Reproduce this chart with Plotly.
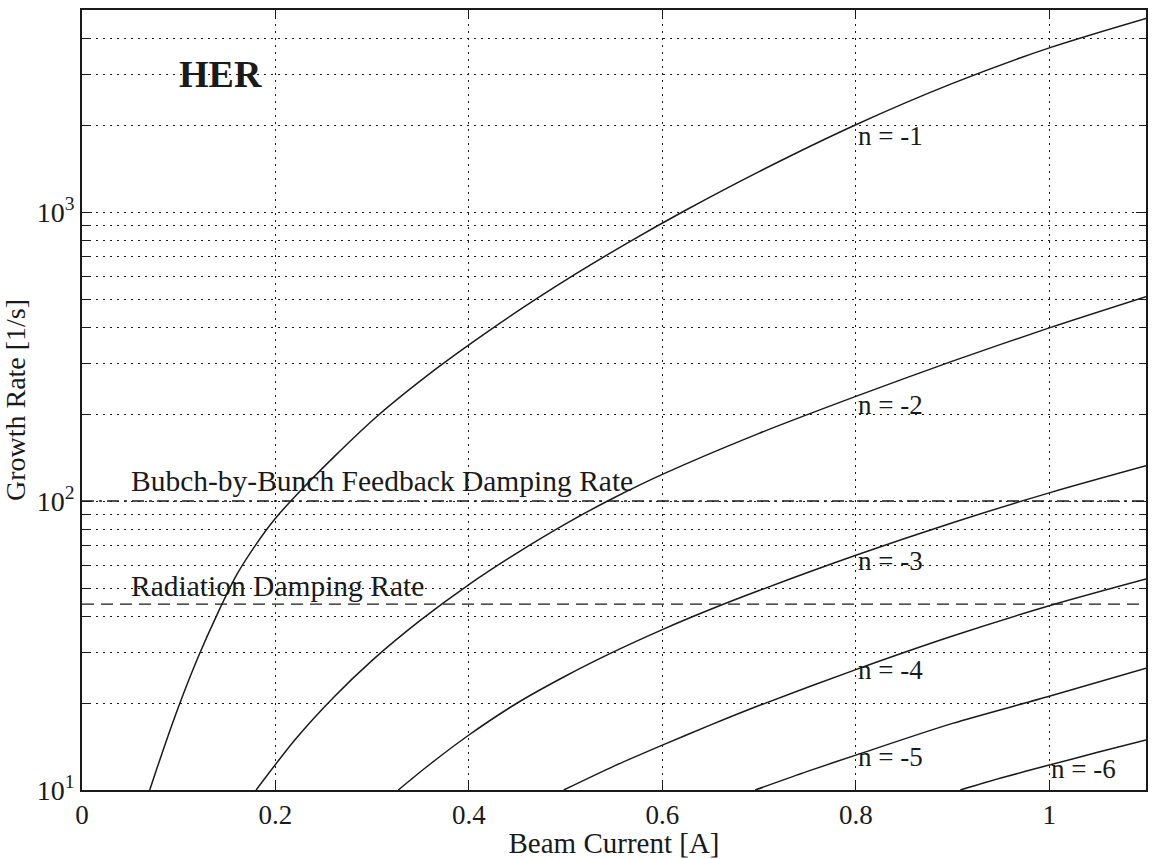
import math
import plotly.graph_objects as go

# ---- data (growth rate in 1/s vs beam current in A) ----
n1_x = [0.070, 0.085, 0.100, 0.120, 0.140, 0.160, 0.180, 0.200, 0.220, 0.260, 0.306, 0.369, 0.421,
        0.470, 0.510, 0.565, 0.624, 0.700, 0.800, 0.900, 1.000, 1.100]
n1_y = [10, 14.1, 19.5, 28.8, 40.7, 55.6, 70.8, 87.1, 103.5, 141.6, 197.7, 291.7, 389.0,
        501.2, 609.5, 785.2, 1014, 1380, 2004, 2786, 3698, 4677]

n2_x = [0.180, 0.220, 0.260, 0.300, 0.350, 0.400, 0.450, 0.500, 0.550, 0.600, 0.700, 0.800, 0.900, 1.000, 1.100]
n2_y = [10, 14.9, 20.9, 28.1, 38.7, 51.4, 66.2, 83.4, 102.6, 123.6, 171.4, 230.1, 304.8, 397.2, 509.3]

n3_x = [0.327, 0.360, 0.400, 0.450, 0.500, 0.550, 0.600, 0.650, 0.700, 0.800, 0.900, 1.000, 1.100]
n3_y = [10, 12.3, 15.5, 20.0, 24.8, 30.1, 35.9, 42.2, 49.0, 64.9, 84.1, 106.7, 132.4]

n4_x = [0.498, 0.550, 0.600, 0.650, 0.700, 0.800, 0.900, 1.000, 1.100]
n4_y = [10, 12.1, 14.3, 16.8, 19.6, 26.1, 34.1, 43.4, 53.7]

n5_x = [0.696, 0.750, 0.800, 0.900, 1.000, 1.100]
n5_y = [10, 11.6, 13.2, 17.0, 21.1, 26.4]

n6_x = [0.908, 0.950, 1.000, 1.050, 1.100]
n6_y = [10, 11.0, 12.2, 13.5, 14.9]

mode_names = ["n = -1", "n = -2", "n = -3", "n = -4", "n = -5", "n = -6"]
label_x = [0.8, 0.8, 0.8, 0.8, 0.8, 1.0]
label_y = [1860, 218, 63, 26.4, 13.2, 12.0]

feedback_rate = 100
radiation_rate = 44
x_range = [0, 1.1]
y_range = [10, 5000]

x_ticks = [0, 0.2, 0.4, 0.6, 0.8, 1.0]
x_ticktext = ["0", "0.2", "0.4", "0.6", "0.8", "1"]
y_ticks = [10, 100, 1000]
y_ticktext = ["10<sup>1</sup>", "10<sup>2</sup>", "10<sup>3</sup>"]
y_minor = [20, 30, 40, 50, 60, 70, 80, 90, 200, 300, 400, 500, 600, 700, 800, 900, 2000, 3000, 4000]

FONT = "Liberation Serif, Times New Roman, serif"
INK = "#1a1a1a"

fig = go.Figure()

curves = [(n1_x, n1_y), (n2_x, n2_y), (n3_x, n3_y), (n4_x, n4_y), (n5_x, n5_y), (n6_x, n6_y)]
for (cx, cy), name in zip(curves, mode_names):
    fig.add_trace(go.Scatter(x=cx, y=cy, mode="lines", name=name,
                             line=dict(color=INK, width=1.5, shape="spline", smoothing=0.8),
                             showlegend=False))

fig.add_trace(go.Scatter(x=x_range, y=[feedback_rate, feedback_rate], mode="lines",
                         line=dict(color=INK, width=1.3, dash="12px,5px,3px,5px"), showlegend=False))
fig.add_trace(go.Scatter(x=x_range, y=[radiation_rate, radiation_rate], mode="lines",
                         line=dict(color=INK, width=1.3, dash="12px,7px"), showlegend=False))

annotations = []
for name, lx, ly in zip(mode_names, label_x, label_y):
    annotations.append(dict(x=lx, y=math.log10(ly), xref="x", yref="y", text=name, showarrow=False,
                            xanchor="left", yanchor="top", xshift=0, yshift=15,
                            font=dict(family=FONT, size=27, color=INK)))
annotations.append(dict(x=0.049, y=math.log10(feedback_rate), xref="x", yref="y",
                        text="Bubch-by-Bunch Feedback Damping Rate", showarrow=False,
                        xanchor="left", yanchor="bottom", yshift=2,
                        font=dict(family=FONT, size=29.5, color=INK)))
annotations.append(dict(x=0.049, y=math.log10(radiation_rate), xref="x", yref="y",
                        text="Radiation Damping Rate", showarrow=False,
                        xanchor="left", yanchor="bottom", yshift=0,
                        font=dict(family=FONT, size=29.5, color=INK)))
annotations.append(dict(x=0.098, y=math.log10(3000), xref="x", yref="y",
                        text="<b>HER</b>", showarrow=False,
                        xanchor="left", yanchor="middle",
                        font=dict(family=FONT, size=38, color=INK)))

dotgrid = "1.5px,5.5px"

fig.update_layout(
    width=1156, height=859,
    margin=dict(l=82, r=8, t=10, b=67),
    paper_bgcolor="white", plot_bgcolor="white",
    font=dict(family=FONT, size=27, color=INK),
    annotations=annotations,
    xaxis=dict(
        range=x_range, tickvals=x_ticks, ticktext=x_ticktext,
        ticks="inside", ticklen=8, tickwidth=1.3, tickcolor=INK,
        showline=True, linecolor=INK, linewidth=1.8, mirror="ticks",
        showgrid=True, gridcolor=INK, gridwidth=1.3, griddash=dotgrid,
        zeroline=False,
        tickfont=dict(family=FONT, size=27, color=INK),
        title=dict(text="Beam Current [A]", font=dict(family=FONT, size=29, color=INK), standoff=0),
    ),
    yaxis=dict(
        type="log", range=[math.log10(y_range[0]), math.log10(y_range[1])],
        tickvals=y_ticks, ticktext=y_ticktext,
        ticks="inside", ticklen=10, tickwidth=1.3, tickcolor=INK,
        showline=True, linecolor=INK, linewidth=1.8, mirror="ticks",
        showgrid=True, gridcolor=INK, gridwidth=1.3, griddash=dotgrid,
        zeroline=False,
        tickfont=dict(family=FONT, size=28, color=INK),
        minor=dict(tickvals=y_minor, ticks="inside", ticklen=7, tickwidth=1.2, tickcolor=INK,
                   showgrid=True, gridcolor=INK, gridwidth=1.3, griddash=dotgrid),
        title=dict(text="Growth Rate [1/s]", font=dict(family=FONT, size=28, color=INK), standoff=6),
    ),
)

fig.write_html("out.html")
